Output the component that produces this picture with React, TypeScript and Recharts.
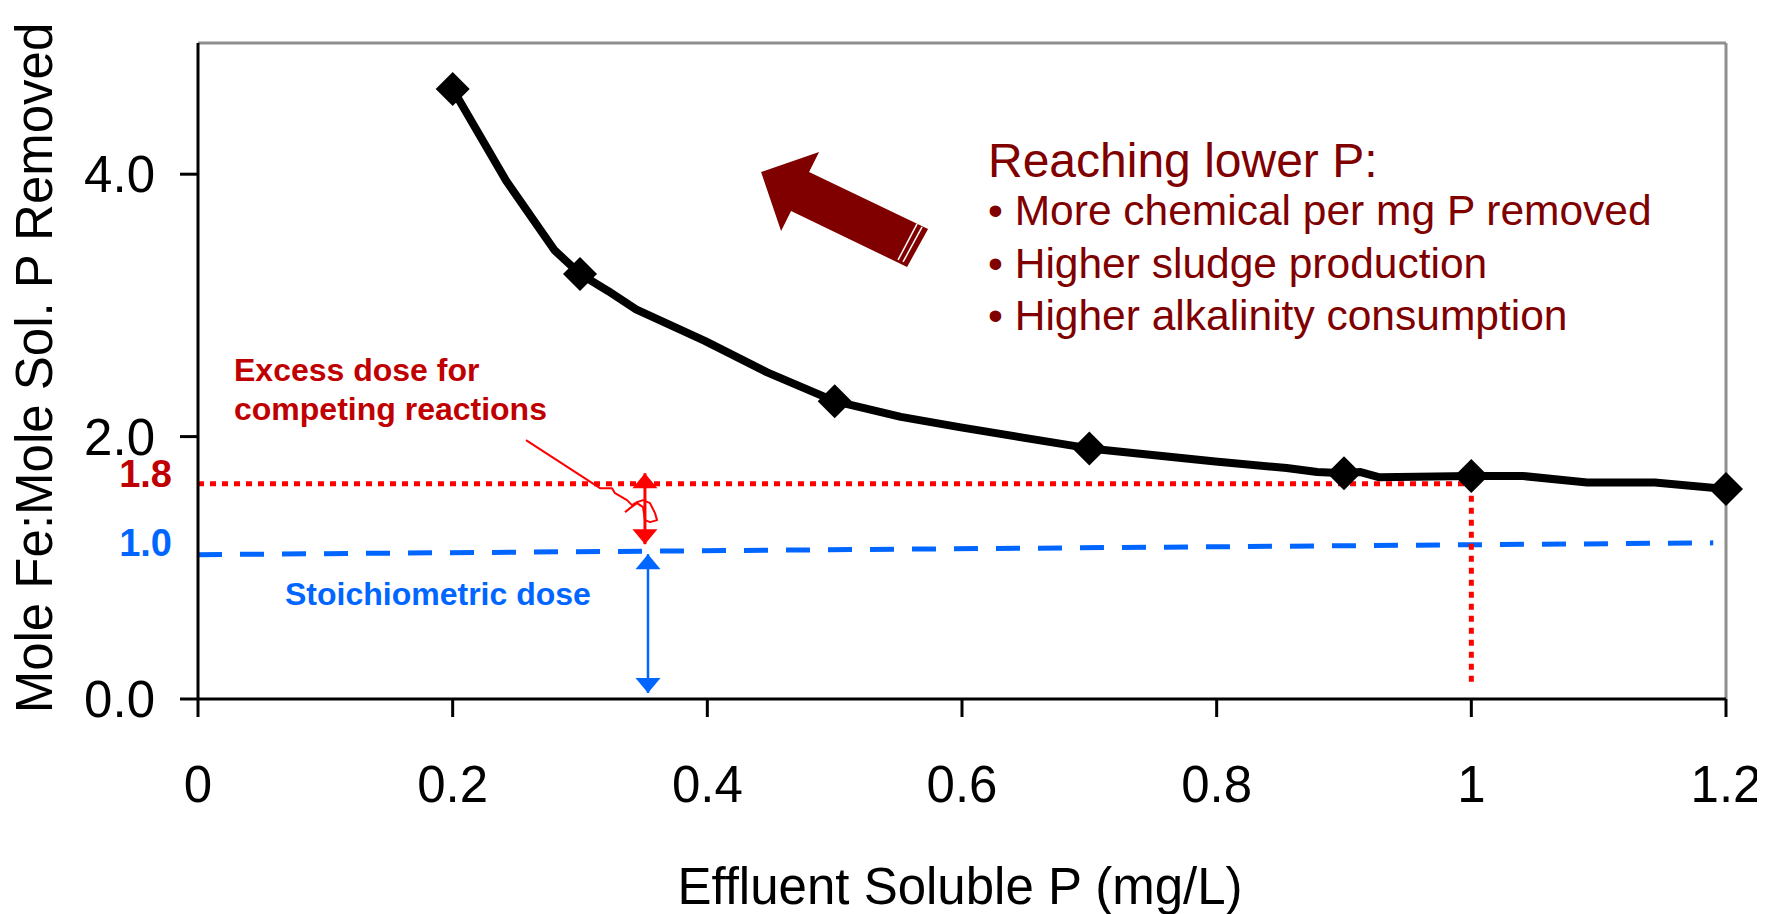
import React from "react";
import {
  ComposedChart,
  Line,
  Scatter,
  XAxis,
  YAxis,
  ReferenceLine,
  ReferenceDot,
  Customized,
} from "recharts";

// measured points (diamonds)
const markerP = [0.2, 0.3, 0.5, 0.7, 0.9, 1.0, 1.2];
const markerFe = [4.65, 3.24, 2.27, 1.91, 1.72, 1.7, 1.6];

// points of the drawn curve
const curveP = [0.2, 0.242, 0.28, 0.3, 0.322, 0.344, 0.398, 0.447, 0.5, 0.552, 0.599, 0.7, 0.799, 0.855, 0.879, 0.9, 0.913, 0.928, 1.0, 1.04, 1.091, 1.144, 1.2];
const curveFe = [4.65, 3.95, 3.42, 3.24, 3.11, 2.97, 2.73, 2.49, 2.27, 2.15, 2.07, 1.91, 1.81, 1.76, 1.73, 1.72, 1.73, 1.69, 1.7, 1.7, 1.65, 1.65, 1.6];

const xTicks = [0, 0.2, 0.4, 0.6, 0.8, 1, 1.2];
const yTicks = [0, 2, 4];

// annotation levels
const excessLevel = 1.64;
const targetP = 1.0;
const stoichStart = { x: 0, y: 1.1 };
const stoichEnd = { x: 1.19, y: 1.19 };
const excessArrowX = 0.351;
const excessArrowTop = 1.721;
const excessArrowBottom = 1.18;
const stoichArrowX = 0.3534;
const stoichArrowTop = 1.104;
const stoichArrowBottom = 0.046;

const bullets = [
  "\u2022 More chemical per mg P removed",
  "\u2022 Higher sludge production",
  "\u2022 Higher alkalinity consumption",
];

const curveData = curveP.map((p, i) => ({ p, fe: curveFe[i] }));
const markerData = markerP.map((p, i) => ({ p, fe: markerFe[i] }));

const FONT = "'Liberation Sans', Arial, sans-serif";
const RED = "#ff0000";
const BLUE = "#0066ff";
const MAROON = "#800000";
const DARKRED = "#c00000";

const Diamond = (props: any) => {
  const { cx, cy } = props;
  const s = 17;
  return <polygon points={`${cx},${cy - s} ${cx + s},${cy} ${cx},${cy + s} ${cx - s},${cy}`} fill="#000" />;
};

const headShape = (dir: "up" | "down", color: string) => (props: any) => {
  const { cx, cy } = props;
  const h = 15;
  const w = 12.5;
  const d = dir === "up" ? 1 : -1;
  return <polygon points={`${cx},${cy} ${cx - w},${cy + d * h} ${cx + w},${cy + d * h}`} fill={color} />;
};

const BlockArrow = (props: any) => {
  const { cx, cy } = props;
  const pts = [
    [0, 0],
    [58, -20],
    [48, 0],
    [167, 57],
    [146, 95],
    [30, 39],
    [20, 59],
  ]
    .map(([dx, dy]) => `${cx + dx},${cy + dy}`)
    .join(" ");
  return (
    <g>
      <polygon points={pts} fill={MAROON} />
      <line x1={cx + 161} y1={cy + 55} x2={cx + 142} y2={cy + 90} stroke="#fff" strokeWidth={1.5} />
      <line x1={cx + 156} y1={cy + 52} x2={cx + 137} y2={cy + 88} stroke="#fff" strokeWidth={1.5} />
    </g>
  );
};

const Leader = (props: any) => {
  const { cx, cy } = props;
  const pts = [
    [74, 48],
    [86, 48],
    [89, 53],
    [101, 60],
    [106, 65],
    [111, 62],
    [117, 60],
    [124, 63],
    [129, 73],
    [131, 80],
    [124, 82],
    [119, 80],
    [117, 67],
    [111, 63],
    [104, 68],
    [99, 72],
  ];
  const d = `M${cx},${cy} ` + pts.map(([dx, dy]) => `L${cx + dx},${cy + dy}`).join(" ");
  return <path d={d} fill="none" stroke={RED} strokeWidth={2} strokeLinejoin="round" />;
};

const Overlay = () => (
  <g fontFamily={FONT}>
    <text x={44} y={360} fontSize={51} textAnchor="middle" transform="rotate(-90, 44, 360)" fill="#000">
      Mole Fe:Mole Sol. P Removed
    </text>
    <text x={952} y={896} fontSize={51} textAnchor="middle" fill="#000">
      Effluent Soluble P (mg/L)
    </text>
    <text x={980} y={169} fontSize={48} fill={MAROON}>
      Reaching lower P:
    </text>
    {bullets.map((b, i) => (
      <text key={b} x={980} y={217 + i * 52.5} fontSize={42.5} fill={MAROON}>
        {b}
      </text>
    ))}
    <text x={226} y={373} fontSize={32} fontWeight="bold" fill={DARKRED}>
      Excess dose for
    </text>
    <text x={226} y={412} fontSize={32} fontWeight="bold" fill={DARKRED}>
      competing reactions
    </text>
    <text x={164} y={479} fontSize={38} fontWeight="bold" fill={DARKRED} textAnchor="end">
      1.8
    </text>
    <text x={164} y={548} fontSize={38} fontWeight="bold" fill={BLUE} textAnchor="end">
      1.0
    </text>
    <text x={277} y={597} fontSize={32} fontWeight="bold" fill={BLUE}>
      Stoichiometric dose
    </text>
  </g>
);

export default function App() {
  return (
    <div style={{ width: 1757, height: 906 }}>
      <ComposedChart width={1757} height={906} margin={{ top: 35, right: 39, bottom: 95, left: 70 }}>
        <XAxis
          type="number"
          dataKey="p"
          domain={[0, 1.2]}
          ticks={xTicks}
          interval={0}
          tickFormatter={(v: number) => String(v)}
          height={120}
          tickSize={18}
          tickMargin={49}
          axisLine={{ stroke: "#000", strokeWidth: 3 }}
          tickLine={{ stroke: "#000", strokeWidth: 3 }}
          tick={{ fontSize: 51, fill: "#000", fontFamily: FONT }}
        />
        <YAxis
          type="number"
          domain={[0, 5]}
          ticks={yTicks}
          interval={0}
          tickFormatter={(v: number) => v.toFixed(1)}
          width={120}
          tickSize={18}
          tickMargin={25}
          axisLine={{ stroke: "#000", strokeWidth: 3 }}
          tickLine={{ stroke: "#000", strokeWidth: 3 }}
          tick={{ fontSize: 51, fill: "#000", fontFamily: FONT }}
        />
        <ReferenceLine y={5} stroke="#8f8f8f" strokeWidth={3} />
        <ReferenceLine x={1.2} stroke="#8f8f8f" strokeWidth={3} />
        <ReferenceLine segment={[stoichStart, stoichEnd]} stroke={BLUE} strokeWidth={5} strokeDasharray="24 18" />
        <Line
          data={curveData}
          dataKey="fe"
          type="linear"
          stroke="#000"
          strokeWidth={8}
          strokeLinejoin="round"
          dot={false}
          activeDot={false}
          isAnimationActive={false}
        />
        <Scatter data={markerData} dataKey="fe" shape={Diamond} isAnimationActive={false} />
        <ReferenceLine
          segment={[{ x: 0, y: excessLevel }, { x: targetP, y: excessLevel }]}
          stroke={RED}
          strokeWidth={5}
          strokeDasharray="6 6"
        />
        <ReferenceLine
          segment={[{ x: targetP, y: excessLevel }, { x: targetP, y: 0.09 }]}
          stroke={RED}
          strokeWidth={5}
          strokeDasharray="6 6"
        />
        <ReferenceLine
          segment={[{ x: excessArrowX, y: excessArrowTop }, { x: excessArrowX, y: excessArrowBottom }]}
          stroke={RED}
          strokeWidth={3}
        />
        <ReferenceDot x={excessArrowX} y={excessArrowTop} ifOverflow="visible" shape={headShape("up", RED)} />
        <ReferenceDot x={excessArrowX} y={excessArrowBottom} ifOverflow="visible" shape={headShape("down", RED)} />
        <ReferenceLine
          segment={[{ x: stoichArrowX, y: stoichArrowTop }, { x: stoichArrowX, y: stoichArrowBottom }]}
          stroke={BLUE}
          strokeWidth={2.5}
        />
        <ReferenceDot x={stoichArrowX} y={stoichArrowTop} ifOverflow="visible" shape={headShape("up", BLUE)} />
        <ReferenceDot x={stoichArrowX} y={stoichArrowBottom} ifOverflow="visible" shape={headShape("down", BLUE)} />
        <ReferenceDot x={0.2576} y={1.973} ifOverflow="visible" shape={Leader} />
        <ReferenceDot x={0.4422} y={4.017} ifOverflow="visible" shape={BlockArrow} />
        <Customized component={Overlay} />
      </ComposedChart>
    </div>
  );
}
